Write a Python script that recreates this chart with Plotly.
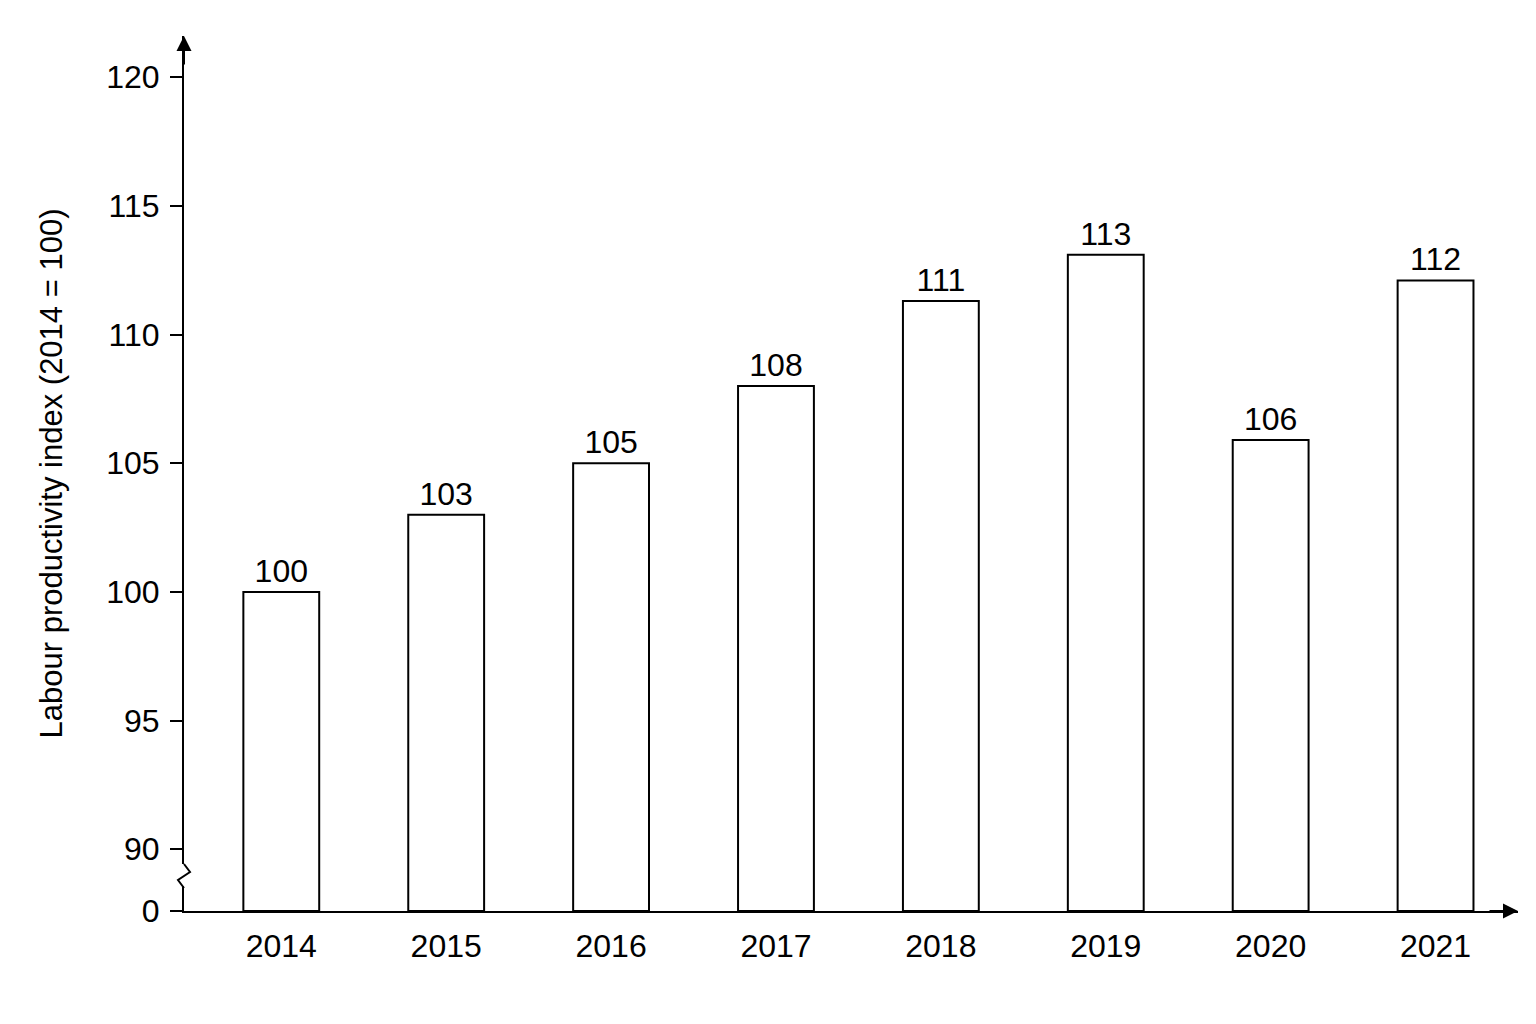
import plotly.graph_objects as go

years = ["2014", "2015", "2016", "2017", "2018", "2019", "2020", "2021"]
values = [100, 103, 105, 108, 111.3, 113.1, 105.9, 112.1]
labels = ["100", "103", "105", "108", "111", "113", "106", "112"]
ytick_vals = [87.6, 90, 95, 100, 105, 110, 115, 120]
ytick_text = ["0", "90", "95", "100", "105", "110", "115", "120"]
base = 87.6

F = "Liberation Sans, Arial, sans-serif"
fig = go.Figure(go.Bar(
    x=list(range(len(years))), y=[v - base for v in values], base=base,
    width=0.46, marker=dict(color="white", line=dict(color="black", width=2)),
    text=labels, textposition="outside", textfont=dict(size=32, color="black", family=F),
    cliponaxis=False))

def px(x): return (x - 176) / 1334
def py(y): return (903 - y) / 875

shapes = [
    dict(type="line", xref="paper", yref="paper", x0=0, x1=0, y0=py(878), y1=py(856),
         line=dict(color="white", width=5)),
    dict(type="path", xref="paper", yref="paper",
         path=f"M {px(176)} {py(856)} L {px(182)} {py(864)} L {px(170)} {py(872)} L {px(176)} {py(880)}",
         line=dict(color="black", width=2)),
]
fig.update_layout(
    width=1536, height=1024, paper_bgcolor="white", plot_bgcolor="white",
    margin=dict(l=176, r=26, t=28, b=121), showlegend=False, shapes=shapes,
    font=dict(family=F, color="black"),
    xaxis=dict(range=[-0.59, 7.5], tickvals=list(range(8)), ticktext=years, automargin=False,
               showline=True, linecolor="black", linewidth=2, showgrid=False, zeroline=False,
               ticks="", tickfont=dict(size=32), ticklabelstandoff=6, fixedrange=True),
    yaxis=dict(range=[base, 121.6], tickvals=ytick_vals, ticktext=ytick_text, automargin=False,
               showline=True, linecolor="black", linewidth=2, showgrid=False, zeroline=False,
               ticks="outside", ticklen=12, tickwidth=2, tickcolor="black",
               tickfont=dict(size=32), ticklabelstandoff=4,
               title=dict(text="Labour productivity index (2014 = 100)", font=dict(size=31), standoff=34)),
    annotations=[
        dict(xref="paper", yref="paper", x=0, y=1, ax=0, ay=30, showarrow=True,
             arrowhead=2, arrowsize=1.5, arrowwidth=2, arrowcolor="black", text=""),
        dict(xref="paper", yref="paper", x=1, y=0, ax=-30, ay=0, showarrow=True,
             arrowhead=2, arrowsize=1.5, arrowwidth=2, arrowcolor="black", text=""),
    ],
)
fig.write_html("out.html")
